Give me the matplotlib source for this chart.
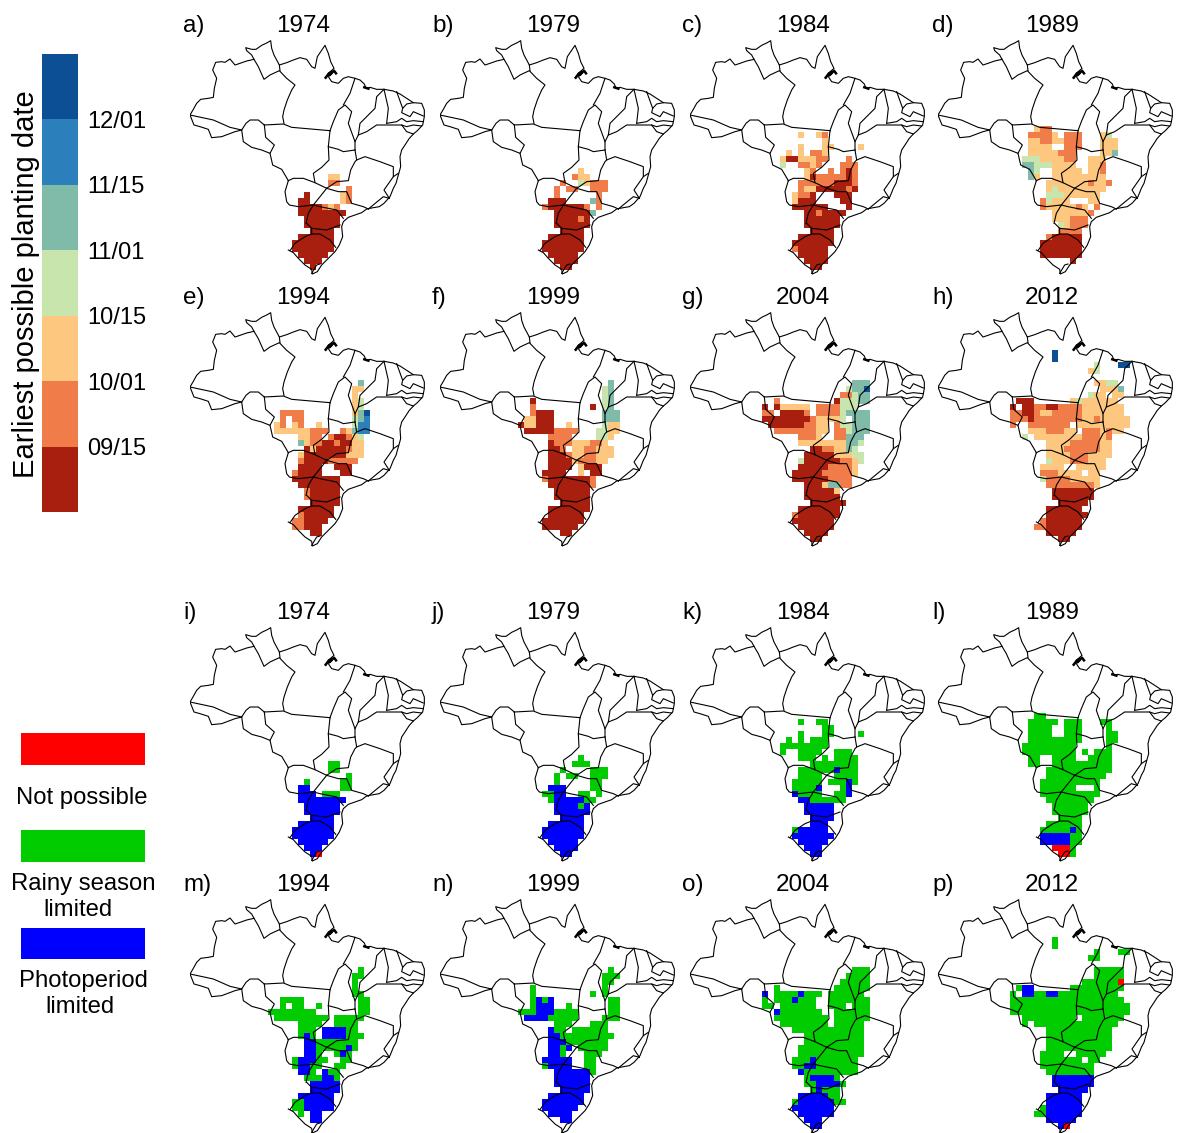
import numpy as np
import matplotlib
matplotlib.use("Agg")
import matplotlib.pyplot as plt
from matplotlib.colors import ListedColormap, BoundaryNorm

plt.rcParams["font.family"] = ["Liberation Sans", "DejaVu Sans"]

W, H = 1183, 1133

years = ["1974", "1979", "1984", "1989", "1994", "1999", "2004", "2012"]
letters_top = ["a)", "b)", "c)", "d)", "e)", "f)", "g)", "h)"]
letters_bot = ["i)", "j)", "k)", "l)", "m)", "n)", "o)", "p)"]

date_colors = ["#a81f0f", "#f07c4a", "#fdc77f", "#c7e5ad", "#7fbba8", "#2b7fbb", "#0c4f94"]
date_ticks = ["09/15", "10/01", "10/15", "11/01", "11/15", "12/01"]
limit_colors = ["#ff0000", "#00cc00", "#0000ff"]

# rows are degrees south, tokens are "first-last:class" with columns from 64W
# later tokens overwrite earlier ones
date_a = {17: "13-14:3", 18: "13-14:2", 19: "16:2", 20: "9:1 15:3 16:2", 21: "8-9:1 15:3 16:2",
          22: "8-11:1 12:2 13:3 14:2", 23: "8-15:1", 24: "9-14:1", 25: "9-14:1", 26: "10-13:1",
          27: "8-13:1", 28: "7-13:1", 29: "7-13:1", 30: "8-12:1", 31: "9-11:1", 32: "10:1"}
date_b = {16: "13:3", 17: "12:2 13-14:3", 18: "10:2 13:4 14:3 15-17:2", 19: "9:2 11-12:2 15-17:2",
          20: "9:2 16:2", 21: "8-10:1 15:5 16:2", 22: "7:2 8-13:1 14:2 16:2", 23: "9-14:1 15:5",
          24: "9-14:1 13:2", 25: "9-14:1", 26: "10-13:1", 27: "8-13:1", 28: "7-13:1", 29: "7-13:1",
          30: "8-12:1", 31: "9-12:1", 32: "10-11:1"}
date_c = {10: "8:3 11:3 12:2", 11: "12:3", 12: "8:3 12-13:3 18:3", 13: "6:3 8:3 10-11:2 12:3",
          14: "5:3 6-7:1 8-9:3 10:3 11:2 12:2 16:2", 15: "5:4 8-9:2 10:3 11:2 15-17:2",
          16: "9:3 10:2 13:2 15:2 16:1 17:2", 17: "9:3 10:1 11-15:2 16:1 17:2",
          18: "8-13:2 14-16:1 17:2", 19: "8:2 9-10:3 11-15:1 16:2 17:1",
          20: "7:3 8-9:2 10:1 14-16:1", 21: "7:3 8-10:1 15-16:1", 22: "7-12:1 16:1",
          23: "9-15:1 11:2", 24: "9-14:1", 25: "9-14:1", 26: "10-13:1", 27: "8-13:1",
          28: "7-13:1", 29: "7-12:1 7:2", 30: "8-12:1", 31: "9-12:1", 32: "10-11:1"}
date_d = {9: "6:3 7-8:2", 10: "5-8:2 9:3 11-13:2 17:3 18:4", 11: "5-6:3 7-8:2 9-10:3 11-13:2 17-19:3",
          12: "5-8:3 11-13:2 17-19:3", 13: "5-9:3 10-12:2 17-18:3 19:5",
          14: "4-6:4 7-10:3 11-12:2 15-17:3", 15: "4-5:5 6-8:4 9-12:3 15-16:3 17:2",
          16: "5:5 6:4 9-13:3 15-16:3 17:2", 17: "5:5 6:3 9-17:3", 18: "8-14:3 15:2 16-17:3 18:2",
          19: "8:3 9:4 10-17:3", 20: "8-10:4 11-12:3 13-16:3", 21: "7:2 8:4 9-11:3 15-16:3",
          22: "7:2 8-11:3 12:3 13:2 14:3 16:2", 23: "9-14:3 15:2", 24: "9-11:3 12-14:2",
          25: "10:4 11:3 12-14:2", 26: "10-13:2", 27: "8:2 9-13:1", 28: "7-13:1", 29: "7-13:1",
          30: "7-13:1", 31: "12:1"}
date_e = {6: "18:5", 7: "17-18:3", 8: "17:3", 9: "17:3 18:4", 10: "17:3 18:4",
          11: "5-8:2 17:3 18:5 19:7", 12: "5:2 7-8:2 17:4 18:5 19:6",
          13: "4:3 5:2 7:3 8:2 11:3 17:4 18-19:6", 14: "4-7:3 8-9:3 10-12:2 15:2 16:3 17:5 18-19:6",
          15: "8-9:3 10-11:2 13:2 14-15:1 16:2 17:3 18:4", 16: "8:5 9:3 10-11:2 12-13:1 14:2 15-16:1 17-18:3",
          17: "9:1 10:3 11-15:1 16:2 17-18:3", 18: "8:3 9-15:1 16-18:3", 19: "8:2 9-12:1 13-14:2 15-17:2",
          20: "8-11:1 14-16:1", 21: "7:2 8-11:1 15-16:1", 22: "7-14:1", 23: "8-14:1", 24: "9:2 10-14:1",
          25: "9:2 10-14:1", 26: "10-14:1", 27: "8-13:1", 28: "8:2 9-13:1", 29: "7-8:2 9-12:1",
          30: "7-8:2 9-11:1", 31: "10-11:1"}
date_f = {6: "18:5", 7: "17:4 18:5", 8: "17:4 18:5", 9: "5:1 17:4 18:5", 10: "5:2 15:1 17:4 18:5",
          11: "5:2 6-8:1 17-19:5", 12: "4-5:3 6-8:1 17-19:5", 13: "3:1 4-5:3 6-8:1 11:3 17:4 18-19:3",
          14: "4-8:1 9-12:2 16-17:4 18-19:3", 15: "8-11:2 16-17:4 18:3",
          16: "8:1 9-11:2 12-14:3 15-16:2 17:3", 17: "8-9:1 10:2 12-13:3 14-15:2 16-18:3",
          18: "8-10:1 11:2 12-13:3 14-15:2 16-18:3", 19: "8-11:1 12:3 13-15:2 16-17:3",
          20: "8-11:1 13:3 14-16:1", 21: "7-10:1 13:3 15-16:1", 22: "7:2 8-14:1 15:2", 23: "8-14:1 15:2",
          24: "9-14:1", 25: "9-14:1", 26: "10-14:1", 27: "8-14:1", 28: "8-13:1", 29: "7-13:1",
          30: "7-12:1", 31: "10-11:1"}
date_g = {6: "17-19:5", 7: "16:4 17-18:5 19:7", 8: "15-16:2 17:4 18-19:5", 9: "4:2 14:1 15-17:4 18-19:5",
          10: "2:1 4:1 5-9:3 11-13:2 14:2 15-17:4", 11: "2-3:2 5-8:1 9:2 11-14:2 15:4 16-19:5",
          12: "2-9:1 10:2 11-14:3 15:4 17-19:5", 13: "3-8:1 9-10:2 11-12:3 14:2 15-16:4 17-19:5",
          14: "4-10:2 11-12:3 14-15:2 16:4 17-19:5", 15: "8-10:2 11:3 14-15:2 16-18:5",
          16: "8-15:3 16-17:5 18:4", 17: "10-11:1 12-13:2 14-15:3 16:5 17:4",
          18: "9-13:1 14-16:3 17-18:4", 19: "8:4 9-14:1 15-16:2 17:3 18:4", 20: "8-12:1 13-16:2 17:3",
          21: "7-11:1 12-16:2 17:3", 22: "7-12:1 13-16:2", 23: "9-11:1 12:3 13-14:5 15-16:2",
          24: "9-13:1 14:3", 25: "9-14:1", 26: "10-15:1", 27: "8-14:1", 28: "7:2 8-14:1", 29: "7-13:1",
          30: "8-13:1", 31: "9-12:1", 32: "10-11:1"}
date_h = {1: "9:7", 2: "9:7", 3: "16:4 20-21:7", 4: "15:3 16:4", 6: "16-17:3 18-19:4", 7: "17:3 18-19:3 20:5",
          8: "15:4 16-17:3 19-20:3", 9: "3-5:1 12:3 13:4 14-19:3", 10: "2:1 4-5:1 6-7:2 8-9:1 10-13:2 14-20:3",
          11: "2-3:2 4-5:1 6:2 7-8:3 9-13:2 14-20:3", 12: "2-4:2 5:1 6-13:2 14-15:3 16:2 17:3 18-21:3",
          13: "2:2 5-11:2 13:3 14-21:3", 14: "5-7:3 8-10:2 11-12:3 14-16:2 17:3 18:2 19-20:3",
          15: "4:4 6-13:3 14-16:2 17:3 18:2", 16: "8-11:3 12-16:2 17-18:3", 17: "8-10:3 11-16:2 17-18:3",
          18: "8-11:3 12-14:2 15-18:3", 19: "8:4 9-11:3 12-14:2 15-17:3", 20: "7-10:3 13-17:3",
          21: "7-9:2 10-13:3 15-16:3", 22: "7:4 8-11:2 12-16:3", 23: "8-11:2 12-15:2 16:3", 24: "9-15:1",
          25: "9-15:1", 26: "10-14:1", 27: "8-13:1", 28: "8-14:1", 29: "7:2 8-13:1", 30: "6-7:2 8-13:1",
          31: "8-12:1", 32: "10-11:1"}

lim_i = {17: "13-14:2", 18: "13-14:2", 19: "16:2", 20: "9:2 15-16:2", 21: "8-9:3 15-16:2",
         22: "8-10:3 12-14:2", 23: "8-15:3", 24: "9-14:3", 25: "9-14:3", 26: "10-13:3", 27: "8-13:3",
         28: "7-13:3", 29: "7-13:3", 30: "8-12:3", 31: "9-11:3", 32: "10:3 11:1"}
lim_j = {16: "13:2", 17: "12-14:2", 18: "10:2 15-17:2", 19: "9:2 11-12:2 15-17:2", 20: "9:2 15-16:2",
         21: "8-10:3 15-16:2", 22: "7-8:2 9-10:3 13-14:2 16:2", 23: "8:2 9-13:3 14-15:2",
         24: "9-14:3 13:2", 25: "9-14:3", 26: "10-13:3", 27: "8-13:3", 28: "7-13:3", 29: "7-13:3",
         30: "8-12:3", 31: "9-12:3", 32: "10-11:3"}
lim_k = {10: "8:2 11-12:2", 11: "12-13:2", 12: "8:2 12-13:2 18:2", 13: "6:2 8:2 10-12:2",
         14: "5-12:2", 15: "5:2 8-11:2 14-16:2", 16: "8-10:2 12:2 14-17:2", 17: "10-17:2",
         18: "8-13:2 14:3 15-17:2", 19: "8-11:2 14-17:2", 20: "7-11:2 13-15:2 16:3 17:2",
         21: "7-10:2 11:3 15:2 16:3", 22: "7:3 8-11:2 14-15:2 16:3", 23: "8-9:3 10-15:2", 24: "9-13:3",
         25: "9-13:3", 26: "10-13:3", 27: "10-12:3", 28: "7:2 8-12:3", 29: "7-13:3", 30: "8-12:3",
         31: "9-11:3", 32: "10-11:3"}
lim_l = {9: "6-7:2", 10: "5-9:2 11-13:2 17-18:2", 11: "5-8:2 11-13:2 18:2", 12: "5-8:2 11-13:2 18-19:2",
         13: "5-13:2 18-19:2", 14: "4-12:2 18:2", 15: "4-12:2 14:2 16-18:2", 16: "5-6:2 9-12:2 15-18:2",
         17: "5-6:2 9-18:2", 18: "8-18:2", 19: "8-17:2", 20: "7-16:2", 21: "7-12:2 16:2",
         22: "7-14:2 15-16:2", 23: "8-15:2", 24: "9-14:2", 25: "9-14:2", 26: "10-13:2", 27: "8-13:2",
         28: "7-13:2 12:3", 29: "7-11:3 12-13:2", 30: "7-11:3 12-13:2", 31: "9-11:1 12:2", 32: "10-11:1 12:2"}
lim_m = {6: "18:2", 7: "17-18:2", 8: "17:2", 9: "17:2", 10: "17-18:2", 11: "5-8:2 18-19:2",
         12: "5:2 7-8:2 11:2 18-19:2", 13: "3-10:2 18-19:2", 14: "4-12:2 14-18:2", 15: "8-11:2 14-17:2",
         16: "8-10:2 12-15:3 16-17:2", 17: "8:2 9:3 10:2 12-15:3 16-18:2", 18: "9-10:3 11-17:2",
         19: "9-10:3 11:2 12-15:2 16:3 17:2", 20: "9-10:3 11:2 14:2 15:3 16:2", 21: "7:2 8-10:3 11-12:2 15-16:2",
         22: "7:2 8-9:3 10-11:2 14-15:2", 23: "8-9:3 10:2 12:3 13-14:2", 24: "9-11:2 12-13:3 14:2",
         25: "10-14:3", 26: "10-14:3", 27: "8-13:3", 28: "7-8:2 9-13:3", 29: "7-8:2 9-13:3",
         30: "8:2 10-11:3", 31: "10-11:3"}
lim_n = {6: "18:2", 7: "17-19:2", 8: "17-18:2", 9: "5:2 17:2", 10: "5:2 15:2 17:2",
         11: "5:2 6:3 7:2 8:3 18-19:2", 12: "5:2 6-8:3 11:2 18-19:2", 13: "3-5:2 6-8:3 9-12:2 18-19:2",
         14: "4-8:3 8-12:2 17-19:2", 15: "9-11:2 15-17:2", 16: "8:3 9-10:2 12-17:2",
         17: "8-9:3 10:2 11-18:2", 18: "8-10:3 11-17:2", 19: "8-9:3 10:2 11:3 13-17:2",
         20: "8-9:3 10:2 14-16:2", 21: "7-11:3 14-15:2", 22: "7:2 8-11:3 14-15:2", 23: "9-14:3 15:2",
         24: "9-14:3", 25: "9-14:3", 26: "10-14:3", 27: "8-13:3", 28: "7-13:3", 29: "7-12:3",
         30: "8-11:3", 31: "10-11:3"}
lim_o = {6: "17-19:2", 7: "16-19:2", 8: "15-19:2", 9: "4:2 14-19:2", 10: "2:3 4-11:2 8:3 13-18:2",
         11: "2:2 4-10:2 7:3 13-19:2", 12: "2-3:2 5-10:2 13-15:2 17-19:2", 13: "4:3 5-11:2 14-19:2",
         14: "4-12:2 14-19:2", 15: "5-12:2 14-18:2", 16: "7-18:2", 17: "9-18:2", 18: "9-18:2", 19: "8-18:2",
         20: "8-18:2", 21: "7-17:2 10:3", 22: "7-17:2 9-10:3", 23: "8:3 9-17:2", 24: "9-14:2 10-13:3",
         25: "9-10:2 11-14:3 15:2", 26: "10-14:2 11:3", 27: "8-12:3 13-14:2", 28: "7:2 8-13:3 14-15:2",
         29: "7-13:3", 30: "8-13:3", 31: "9-11:3", 32: "10-11:3"}
lim_p = {1: "9:2", 2: "9:2", 3: "16:2 20-21:2", 4: "15-16:2", 6: "16-20:2", 7: "16-20:2", 8: "14-19:2 20:1",
         9: "3:2 4-5:3 12-20:2", 10: "2:2 4-5:3 6-7:2 8-9:3 10-19:2", 11: "2-20:2", 12: "2-21:2", 13: "2-21:2",
         14: "4-12:2 14-20:2", 15: "4:2 6-19:2", 16: "8-18:2", 17: "8-18:2", 18: "8-18:2", 19: "8-18:2",
         20: "7-10:2 13-17:2", 21: "7-13:2 15-16:2", 22: "7-15:2", 23: "8-15:2", 24: "9-15:3", 25: "9-15:3",
         26: "10-14:3", 27: "8-13:3", 28: "8-13:3", 29: "7:2 8-13:3", 30: "6-7:2 8-13:3", 31: "8-12:3",
         32: "10:3 11:1"}

# borders, in trace units, converted to lon/lat below
borders = [
    [(30, 315), (40, 298), (50, 280), (62, 268), (85, 265), (100, 262), (103, 235), (110, 205), (98, 180),
     (107, 157), (125, 155), (135, 157), (150, 147), (165, 165), (180, 160), (200, 153), (222, 148), (215, 135),
     (200, 122), (197, 113), (215, 118), (228, 118), (245, 106), (262, 98), (272, 92), (275, 115), (282, 135),
     (298, 165), (320, 158), (340, 150), (360, 143), (380, 148), (395, 170), (405, 175), (412, 140), (435, 106),
     (445, 130), (452, 155), (462, 175), (445, 190), (437, 205)],
    [(445, 200), (455, 215), (475, 220), (490, 205), (505, 200), (525, 205), (540, 210), (553, 222), (558, 235),
     (570, 232), (590, 238), (612, 238), (640, 243), (660, 252), (680, 265), (700, 278), (725, 280), (733, 300),
     (733, 320), (728, 345), (712, 362), (700, 372), (688, 385), (675, 405), (665, 420), (660, 440), (662, 470),
     (655, 495), (648, 520), (640, 535), (630, 560), (612, 580), (598, 590), (580, 593), (560, 597), (545, 608),
     (525, 615), (505, 622), (490, 635), (485, 650), (488, 680), (478, 705), (465, 725), (445, 745), (425, 765),
     (412, 785), (397, 792), (395, 778), (375, 765), (355, 745), (340, 728), (325, 720)],
    [(395, 790), (410, 765), (420, 762)],
    [(30, 315), (42, 345), (60, 350), (85, 358), (95, 383), (125, 380), (165, 365), (185, 360), (198, 340),
     (210, 330), (235, 330), (253, 345)],
    [(30, 315), (100, 330), (150, 352), (185, 360)],
    [(185, 360), (190, 395), (215, 412), (245, 420), (270, 430), (283, 405), (257, 382), (253, 345)],
    [(253, 345), (310, 342), (335, 352), (450, 362)],
    [(270, 430), (278, 465), (305, 478), (318, 500), (325, 512)],
    [(222, 148), (235, 170), (252, 208), (270, 195), (298, 182), (320, 205), (345, 225), (335, 240), (322, 270),
     (312, 300), (308, 320), (312, 340)],
    [(298, 165), (300, 182)],
    [(450, 362), (445, 410), (447, 450), (425, 472), (400, 490), (405, 518)],
    [(325, 512), (340, 505), (370, 505), (405, 518), (440, 535)],
    [(325, 512), (315, 545), (320, 575), (328, 585), (355, 590), (400, 585), (420, 560), (440, 535)],
    [(440, 535), (470, 515), (505, 512), (512, 480), (525, 455), (530, 450), (525, 420)],
    [(445, 410), (475, 418), (490, 425), (525, 420)],
    [(525, 420), (525, 395), (505, 340), (515, 305), (495, 285), (475, 300), (460, 335), (450, 362)],
    [(490, 285), (510, 250), (525, 205)],
    [(612, 238), (590, 260), (585, 295), (540, 340), (535, 375), (525, 395)],
    [(612, 238), (625, 295), (620, 340)],
    [(535, 375), (560, 365), (590, 345), (625, 345), (665, 345), (680, 365), (700, 372)],
    [(650, 245), (668, 295), (680, 282), (700, 278)],
    [(668, 295), (665, 308), (690, 320), (700, 305), (730, 318)],
    [(620, 340), (650, 335), (665, 325), (680, 335), (700, 332), (730, 335)],
    [(665, 345), (680, 350), (700, 345), (725, 348)],
    [(530, 450), (555, 440), (600, 455), (640, 470), (640, 500), (655, 490)],
    [(440, 535), (475, 545), (500, 545), (515, 580), (550, 590), (565, 597)],
    [(640, 500), (612, 540), (628, 565)],
    [(565, 597), (610, 560), (628, 565)],
    [(400, 585), (420, 590), (470, 600), (490, 625)],
    [(380, 640), (395, 655), (440, 660), (480, 645)],
    [(400, 585), (385, 610), (378, 640)],
    [(395, 655), (395, 672), (375, 680), (345, 700), (330, 722)],
    [(395, 672), (420, 672), (450, 690), (467, 712)],
]
delta_blobs = [
    [(437, 203), (447, 190), (455, 186), (448, 196), (462, 182), (468, 190)],
    [(553, 232), (565, 236)],
]

# panel offsets from panel a, in pixels
col_dx = [0, 250, 500, 748]
row_dy = [0, 272, 587, 859]
title_x = [303, 553, 803, 1052]
letter_x = [183, 432, 682, 932]
row_y = [26, 298, 613, 885]


def expand(cells):
    grid = np.zeros((34, 24))
    for row, tokens in cells.items():
        for tok in tokens.split():
            span, cls = tok.split(":")
            first, _, last = span.partition("-")
            last = last or first
            grid[row, int(first):int(last) + 1] = int(cls)
    return np.ma.masked_equal(grid, 0)


def draw_map(ax, cells, colors):
    lon_edges = np.arange(-64, -39)
    lat_edges = -np.arange(0, 35)
    cmap = ListedColormap(colors)
    norm = BoundaryNorm(np.arange(0.5, len(colors) + 1), cmap.N)
    ax.pcolormesh(lon_edges, lat_edges, expand(cells), cmap=cmap, norm=norm, linewidth=0)
    for line in borders:
        pts = np.array(line, dtype=float)
        ax.plot(-74 + (pts[:, 0] - 30) / 18, 5.27 - (pts[:, 1] - 90) / 18, color="black", lw=0.8)
    for line in delta_blobs:
        pts = np.array(line, dtype=float)
        ax.plot(-74 + (pts[:, 0] - 30) / 18, 5.27 - (pts[:, 1] - 90) / 18, color="black", lw=1.8)
    ax.set_xlim(-74, -34.8)
    ax.set_ylim(-33.93, 5.27)
    ax.axis("off")


fig = plt.figure(figsize=(W / 100, H / 100), dpi=100)
page = fig.add_axes([0, 0, 1, 1])
page.set_xlim(0, W)
page.set_ylim(H, 0)
page.axis("off")

date_panels = [date_a, date_b, date_c, date_d, date_e, date_f, date_g, date_h]
lim_panels = [lim_i, lim_j, lim_k, lim_l, lim_m, lim_n, lim_o, lim_p]

for k in range(16):
    col = k % 4
    row = k // 4
    left = 190 + col_dx[col]
    top = 40 + row_dy[row]
    ax = fig.add_axes([left / W, 1 - (top + 235.2) / H, 235.2 / W, 235.2 / H])
    if k < 8:
        draw_map(ax, date_panels[k], date_colors)
        letter = letters_top[k]
    else:
        draw_map(ax, lim_panels[k - 8], limit_colors)
        letter = letters_bot[k - 8]
    page.text(title_x[col], row_y[row], years[k % 8], fontsize=17.5, ha="center", va="center")
    page.text(letter_x[col], row_y[row], letter, fontsize=17.5, ha="left", va="center")

# colour key
cax = fig.add_axes([42 / W, 1 - 512 / H, 36 / W, 458 / H])
cax.pcolormesh([0, 1], np.arange(8), np.arange(7).reshape(-1, 1), cmap=ListedColormap(date_colors))
cax.set_xticks([])
cax.set_yticks(np.arange(1, 7))
cax.set_yticklabels(date_ticks, fontsize=17)
cax.yaxis.tick_right()
cax.tick_params(length=0, pad=6.5)
for s in cax.spines.values():
    s.set_visible(False)
page.text(26, 284, "Earliest possible planting date", rotation=90, fontsize=21, ha="center", va="center")

# limitation key
key_tops = [733, 830, 927.5]
for y, c in zip(key_tops, limit_colors):
    page.add_patch(plt.Rectangle((21, y), 124, 31.5, color=c, lw=0))
page.text(82, 798, "Not possible", fontsize=17.2, ha="center", va="center")
page.text(83, 884, "Rainy season", fontsize=17.2, ha="center", va="center")
page.text(78, 910, "limited", fontsize=17.2, ha="center", va="center")
page.text(83, 981, "Photoperiod", fontsize=17.2, ha="center", va="center")
page.text(80, 1007, "limited", fontsize=17.2, ha="center", va="center")

fig.savefig("out.png", dpi=100)
